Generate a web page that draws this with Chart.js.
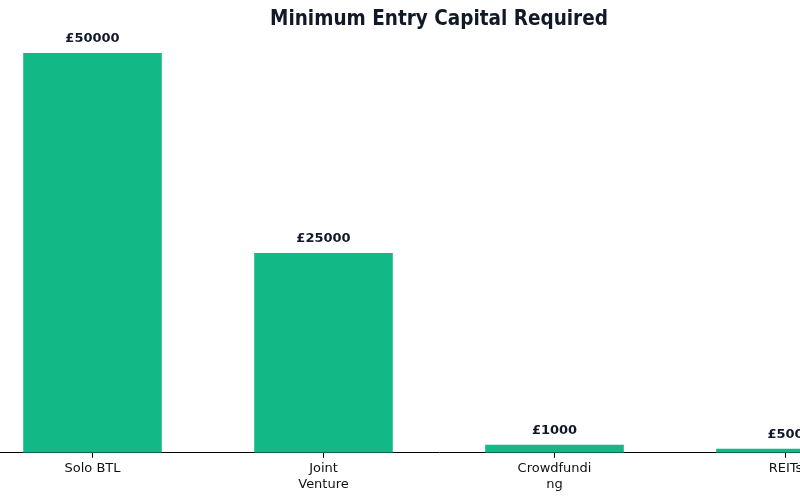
<!DOCTYPE html>
<html><head><meta charset="utf-8">
<script src="https://cdn.jsdelivr.net/npm/chart.js@4.4.1/dist/chart.umd.min.js"></script>
<style>
html,body{margin:0;padding:0;background:#fff;overflow:hidden;width:800px;height:500px;}
#wrap{position:absolute;left:-23px;top:0;width:924px;height:500px;}
</style></head>
<body>
<div id="wrap"><canvas id="c"></canvas></div>
<script>
const categories = [['Solo BTL'], ['Joint', 'Venture'], ['Crowdfundi', 'ng'], ['REITs']];
const minCapital = [50000, 25000, 1000, 500];
const valueLabels = ['£50000', '£25000', '£1000', '£500'];
const chartTitle = 'Minimum Entry Capital Required';

const labelPlugin = {
  id: 'valueLabels',
  afterDatasetsDraw(chart) {
    const ctx = chart.ctx;
    const meta = chart.getDatasetMeta(0);
    ctx.save();
    ctx.font = 'bold 13px "DejaVu Sans"';
    ctx.fillStyle = '#111827';
    ctx.textAlign = 'center';
    ctx.textBaseline = 'middle';
    meta.data.forEach((bar, i) => {
      ctx.fillText(valueLabels[i], bar.x, bar.y - 14.5);
    });
    ctx.restore();
  }
};

new Chart(document.getElementById('c'), {
  type: 'bar',
  data: {
    labels: categories,
    datasets: [{
      data: minCapital,
      backgroundColor: '#12b886',
      borderWidth: 0,
      barPercentage: 0.6,
      categoryPercentage: 1.0
    }]
  },
  options: {
    responsive: true,
    maintainAspectRatio: false,
    animation: false,
    layout: { padding: { top: 0, bottom: 5, left: 0, right: 0 } },
    plugins: {
      legend: { display: false },
      tooltip: { enabled: false },
      title: {
        display: true,
        text: chartTitle,
        color: '#111827',
        font: { family: '"DejaVu Sans Condensed", "DejaVu Sans"', size: 20.5, weight: 'bold', lineHeight: 1.17 },
        padding: { top: 8, bottom: 0 }
      }
    },
    scales: {
      x: {
        grid: { drawOnChartArea: false, drawTicks: true, tickLength: 5, color: '#000', offset: false },
        border: { display: true, color: '#000', width: 1 },
        ticks: { color: '#111', font: { family: '"DejaVu Sans"', size: 13 }, padding: 3, maxRotation: 0, autoSkip: false }
      },
      y: {
        display: false,
        min: 0,
        max: 52632
      }
    }
  },
  plugins: [labelPlugin]
});
</script>
</body></html>
